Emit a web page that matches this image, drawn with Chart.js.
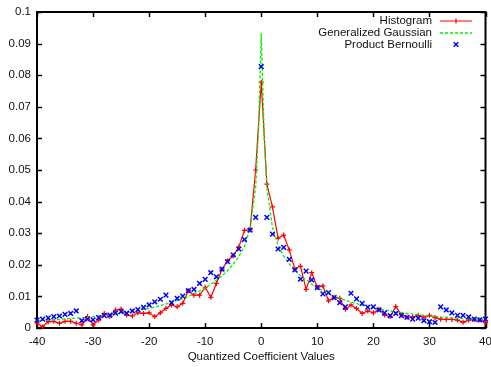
<!DOCTYPE html>
<html>
<head>
<meta charset="utf-8">
<script src="https://cdn.jsdelivr.net/npm/chart.js@4.4.1/dist/chart.umd.min.js"></script>
<style>
  html, body { margin: 0; padding: 0; background: #fff; overflow: hidden; }
</style>
</head>
<body>
<canvas id="plot" width="491" height="367"></canvas>
<script>
// coefficient values (x) shared by histogram and product bernoulli
const coeffValues = [
  -40, -39, -38, -37, -36, -35, -34, -33, -32, -31,
  -30, -29, -28, -27, -26, -25, -24, -23, -22, -21,
  -20, -19, -18, -17, -16, -15, -14, -13, -12, -11,
  -10, -9, -8, -7, -6, -5, -4, -3, -2, -1,
  0,
  1, 2, 3, 4, 5, 6, 7, 8, 9, 10,
  11, 12, 13, 14, 15, 16, 17, 18, 19, 20,
  21, 22, 23, 24, 25, 26, 27, 28, 29, 30,
  31, 32, 33, 34, 35, 36, 37, 38, 39, 40
];

const histogram = [
  0.0015, 0.0004, 0.0020, 0.0021, 0.0015, 0.0021, 0.0021, 0.0015, 0.0010, 0.0036,
  0.0010, 0.0025, 0.0046, 0.0036, 0.0057, 0.0060, 0.0041, 0.0038, 0.0048, 0.0046,
  0.0048, 0.0036, 0.0048, 0.0062, 0.0073, 0.0067, 0.0078, 0.0118, 0.0104, 0.0104,
  0.0129, 0.0097, 0.0141, 0.0186, 0.0213, 0.0228, 0.0256, 0.0309, 0.0311, 0.0500,
  0.0778,
  0.0455, 0.0383, 0.0284, 0.0294, 0.0247, 0.0186, 0.0196, 0.0122, 0.0175, 0.0129,
  0.0133, 0.0086, 0.0097, 0.0094, 0.0059, 0.0073, 0.0062, 0.0046, 0.0054, 0.0048,
  0.0059, 0.0041, 0.0036, 0.0068, 0.0042, 0.0034, 0.0035, 0.0040, 0.0034, 0.0040,
  0.0033, 0.0028, 0.0027, 0.0027, 0.0025, 0.0018, 0.0025, 0.0027, 0.0025, 0.0017
];

const productBernoulli = [
  0.0025, 0.0028, 0.0032, 0.0036, 0.0038, 0.0043, 0.0046, 0.0054, 0.0023, 0.0028,
  0.0026, 0.0033, 0.0039, 0.0041, 0.0047, 0.0052, 0.0047, 0.0054, 0.0058, 0.0065,
  0.0073, 0.0083, 0.0091, 0.0104, 0.0080, 0.0094, 0.0101, 0.0118, 0.0122, 0.0141,
  0.0154, 0.0175, 0.0162, 0.0186, 0.0210, 0.0231, 0.0250, 0.0280, 0.0310, 0.0350,
  0.0827,
  0.0350, 0.0297, 0.0250, 0.0255, 0.0217, 0.0184, 0.0155, 0.0180, 0.0152, 0.0128,
  0.0108, 0.0112, 0.0096, 0.0080, 0.0067, 0.0110, 0.0092, 0.0078, 0.0066, 0.0067,
  0.0057, 0.0048, 0.0039, 0.0046, 0.0039, 0.0034, 0.0028, 0.0031, 0.0023, 0.0020,
  0.0018, 0.0067, 0.0057, 0.0048, 0.0040, 0.0040, 0.0035, 0.0028, 0.0026, 0.0028
];

// generalized gaussian fit, a bit denser around the peak
const gaussX = [
  -40, -39, -38, -37, -36, -35, -34, -33, -32, -31,
  -30, -29, -28, -27, -26, -25, -24, -23, -22, -21,
  -20, -19, -18, -17, -16, -15, -14, -13, -12, -11,
  -10, -9, -8, -7, -6, -5, -4, -3, -2, -1,
  -0.5, 0, 0.5,
  1, 2, 3, 4, 5, 6, 7, 8, 9, 10,
  11, 12, 13, 14, 15, 16, 17, 18, 19, 20,
  21, 22, 23, 24, 25, 26, 27, 28, 29, 30,
  31, 32, 33, 34, 35, 36, 37, 38, 39, 40
];
const gaussY = [
  0.0023, 0.0024, 0.0025, 0.0026, 0.0027, 0.0029, 0.0030, 0.0031, 0.0033, 0.0034,
  0.0036, 0.0038, 0.0040, 0.0042, 0.0044, 0.0047, 0.0049, 0.0052, 0.0055, 0.0059,
  0.0062, 0.0066, 0.0071, 0.0076, 0.0081, 0.0087, 0.0093, 0.0100, 0.0108, 0.0117,
  0.0127, 0.0138, 0.0151, 0.0165, 0.0182, 0.0202, 0.0226, 0.0258, 0.0315, 0.0445,
  0.0620, 0.0933, 0.0620,
  0.0445, 0.0318, 0.0262, 0.0228, 0.0203, 0.0183, 0.0166, 0.0152, 0.0139, 0.0128,
  0.0118, 0.0109, 0.0101, 0.0094, 0.0088, 0.0082, 0.0077, 0.0072, 0.0068, 0.0064,
  0.0060, 0.0057, 0.0054, 0.0051, 0.0049, 0.0046, 0.0044, 0.0042, 0.0040, 0.0038,
  0.0037, 0.0035, 0.0034, 0.0032, 0.0031, 0.0030, 0.0029, 0.0028, 0.0027, 0.0026
];

const xTicks = [-40, -30, -20, -10, 0, 10, 20, 30, 40];
const yTicks = [0, 0.01, 0.02, 0.03, 0.04, 0.05, 0.06, 0.07, 0.08, 0.09, 0.1];
const yTickLabels = ['0', '0.01', '0.02', '0.03', '0.04', '0.05', '0.06', '0.07', '0.08', '0.09', '0.1'];

const seriesNames = ['Histogram', 'Generalized Gaussian', 'Product Bernoulli'];
const xTitle = 'Quantized Coefficient Values';

const FONT = 'Liberation Sans, Arial, Helvetica, sans-serif';
const RED = '#ff0000', GREEN = '#00ee00', BLUE = '#0000ff';

const toPoints = (xs, ys) => xs.map((x, i) => ({x: x, y: ys[i]}));

// gnuplot-like frame with inward ticks on all four sides
const framePlugin = {
  id: 'frame',
  beforeDatasetsDraw(chart) {
    const {ctx, chartArea: a, scales} = chart;
    ctx.save();
    ctx.strokeStyle = '#000';
    ctx.lineWidth = 2;
    ctx.strokeRect(a.left, a.top, a.right - a.left, a.bottom - a.top);
    ctx.lineWidth = 1.5;
    ctx.beginPath();
    xTicks.forEach(v => {
      const px = Math.round(scales.x.getPixelForValue(v)) + 0.5;
      ctx.moveTo(px, a.bottom); ctx.lineTo(px, a.bottom - 5);
      ctx.moveTo(px, a.top); ctx.lineTo(px, a.top + 5);
    });
    yTicks.forEach(v => {
      const py = Math.round(scales.y.getPixelForValue(v)) + 0.5;
      ctx.moveTo(a.left, py); ctx.lineTo(a.left + 5, py);
      ctx.moveTo(a.right, py); ctx.lineTo(a.right - 5, py);
    });
    ctx.stroke();
    ctx.restore();
  }
};

// key in the top right corner: text right aligned, sample to its right
const keyPlugin = {
  id: 'key',
  afterDraw(chart) {
    const {ctx} = chart;
    const textRight = 432, x0 = 440, x1 = 472, xm = 456;
    const rows = [21, 33, 44.5];
    ctx.save();
    ctx.font = '11.5px ' + FONT;
    ctx.fillStyle = '#111';
    ctx.textAlign = 'right';
    ctx.textBaseline = 'middle';
    seriesNames.forEach((name, i) => ctx.fillText(name, textRight, rows[i]));

    ctx.strokeStyle = RED; ctx.lineWidth = 1.2;
    ctx.beginPath();
    ctx.moveTo(x0, rows[0]); ctx.lineTo(x1, rows[0]);
    ctx.moveTo(xm, rows[0] - 2.5); ctx.lineTo(xm, rows[0] + 2.5);
    ctx.stroke();

    ctx.strokeStyle = GREEN; ctx.lineWidth = 1.3;
    ctx.setLineDash([3, 2]);
    ctx.beginPath();
    ctx.moveTo(x0, rows[1]); ctx.lineTo(x1, rows[1]);
    ctx.stroke();
    ctx.setLineDash([]);

    ctx.strokeStyle = BLUE; ctx.lineWidth = 1.5;
    ctx.beginPath();
    ctx.moveTo(xm - 2.3, rows[2] - 2.3); ctx.lineTo(xm + 2.3, rows[2] + 2.3);
    ctx.moveTo(xm - 2.3, rows[2] + 2.3); ctx.lineTo(xm + 2.3, rows[2] - 2.3);
    ctx.stroke();
    ctx.restore();
  }
};

new Chart(document.getElementById('plot'), {
  type: 'line',
  data: {
    datasets: [
      {
        label: seriesNames[0],
        data: toPoints(coeffValues, histogram),
        borderColor: RED,
        borderWidth: 1.2,
        pointStyle: 'cross',
        pointRadius: 2.5,
        pointBorderColor: RED,
        pointBorderWidth: 1.2,
        tension: 0,
        clip: false,
        order: 3,
      },
      {
        label: seriesNames[1],
        data: toPoints(gaussX, gaussY),
        borderColor: GREEN,
        borderWidth: 1.3,
        borderDash: [3, 2],
        pointRadius: 0,
        tension: 0,
        order: 2,
      },
      {
        label: seriesNames[2],
        data: toPoints(coeffValues, productBernoulli),
        showLine: false,
        pointStyle: 'crossRot',
        pointRadius: 3.3,
        pointBorderColor: BLUE,
        pointBorderWidth: 1.5,
        clip: false,
        order: 1,
      },
    ],
  },
  options: {
    responsive: false,
    animation: false,
    events: [],
    layout: {padding: {top: 12, right: 5, left: 0, bottom: 0}},
    plugins: {legend: {display: false}, tooltip: {enabled: false}},
    scales: {
      x: {
        type: 'linear',
        min: -40,
        max: 40,
        grid: {display: false, drawTicks: false},
        border: {display: false},
        afterBuildTicks: s => { s.ticks = xTicks.map(v => ({value: v})); },
        afterFit: s => { s.height = 39; s.paddingLeft = 0; s.paddingRight = 0; },
        ticks: {
          color: '#111',
          font: {family: FONT, size: 11.5},
          padding: 7,
          maxRotation: 0,
          autoSkip: false,
          callback: v => String(v),
        },
        title: {
          display: true,
          text: xTitle,
          color: '#111',
          font: {family: FONT, size: 11.5},
          padding: {top: 0, bottom: 3},
        },
      },
      y: {
        type: 'linear',
        min: 0,
        max: 0.1,
        grid: {display: false, drawTicks: false},
        border: {display: false},
        afterBuildTicks: s => { s.ticks = yTicks.map(v => ({value: v})); },
        afterFit: s => { s.width = 37; s.paddingTop = 0; s.paddingBottom = 0; },
        ticks: {
          color: '#111',
          font: {family: FONT, size: 11.5},
          padding: 6,
          autoSkip: false,
          callback: (v, i) => yTickLabels[i],
        },
      },
    },
  },
  plugins: [framePlugin, keyPlugin],
});
</script>
</body>
</html>
